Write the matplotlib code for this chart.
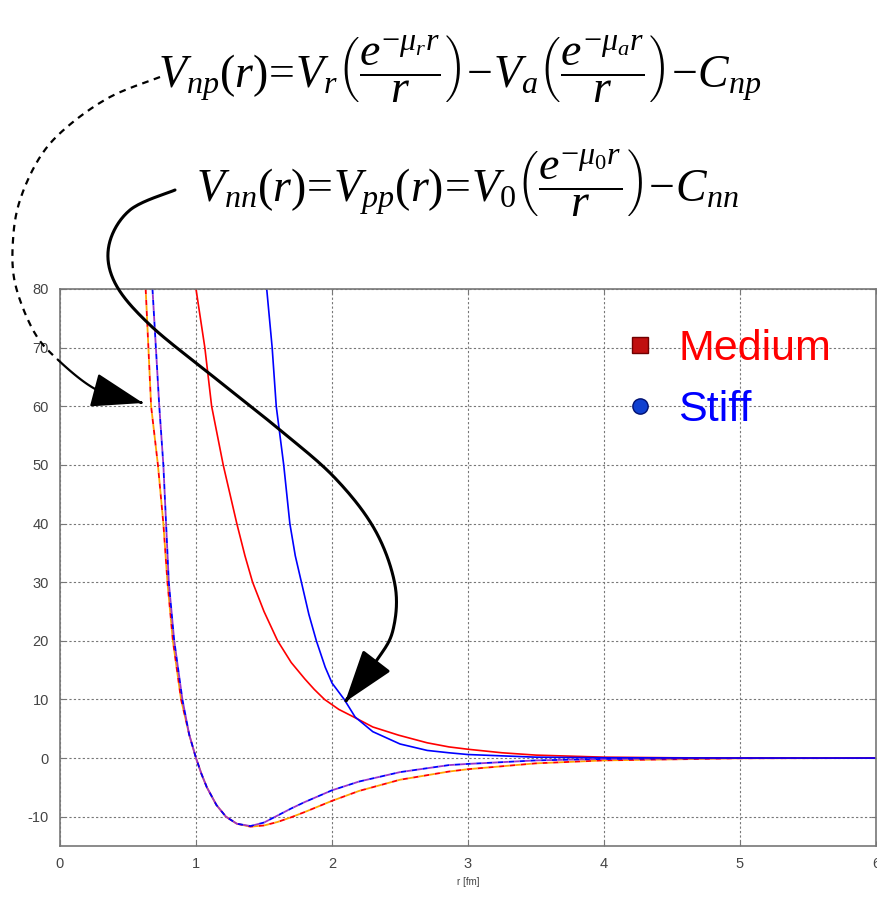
import numpy as np
import matplotlib.pyplot as plt
from matplotlib.patches import FancyArrowPatch, ArrowStyle
from matplotlib.path import Path
from matplotlib.lines import Line2D

plt.rcParams['font.family'] = ['Liberation Sans', 'DejaVu Sans']
plt.rcParams['mathtext.fontset'] = 'custom'
plt.rcParams['mathtext.it'] = 'Liberation Serif:italic'
plt.rcParams['mathtext.rm'] = 'Liberation Serif'
plt.rcParams['axes.unicode_minus'] = False

# nn potentials (solid)
r_nn_med = [1.0, 1.065, 1.115, 1.2, 1.3, 1.36, 1.416, 1.5, 1.6, 1.7, 1.8, 1.87, 1.945, 2.05,
            2.16, 2.3, 2.49, 2.7, 2.86, 3.0, 3.25, 3.5, 4.0, 4.5, 5.0, 6.0]
V_nn_med = [80, 70, 60, 50, 40, 34.5, 30, 25, 20, 16.3, 13.5, 11.7, 10, 8.3,
            7, 5.3, 3.9, 2.6, 1.9, 1.5, 0.9, 0.5, 0.15, 0.05, 0.0, 0.0]
r_nn_stf = [1.52, 1.56, 1.59, 1.645, 1.69, 1.73, 1.775, 1.83, 1.885, 1.95, 2.0, 2.09, 2.17,
            2.3, 2.5, 2.7, 2.86, 3.0, 3.5, 4.0, 5.0, 6.0]
V_nn_stf = [80, 70, 60, 50, 40, 34.5, 30, 24.5, 20, 15.5, 12.8, 10, 7,
            4.5, 2.4, 1.3, 0.9, 0.6, 0.15, 0.05, 0.0, 0.0]

# np potentials (dashed)
r_np_med = [0.63, 0.67, 0.72, 0.76, 0.79, 0.83, 0.89, 0.95, 1.0, 1.04, 1.08, 1.15, 1.22, 1.3,
            1.4, 1.5, 1.6, 1.7, 1.8, 2.0, 2.2, 2.5, 2.86, 3.0, 3.5, 4.0, 5.0, 6.0]
V_np_med = [80, 60, 50, 40, 30, 20, 10, 4, 0, -2.7, -5, -8, -10, -11.2,
            -11.7, -11.5, -10.9, -10.1, -9.2, -7.3, -5.6, -3.7, -2.3, -1.9, -0.9, -0.4, -0.05, 0]
r_np_stf = [0.68, 0.73, 0.76, 0.78, 0.80, 0.84, 0.90, 0.95, 1.0, 1.04, 1.08, 1.15, 1.22, 1.3,
            1.4, 1.5, 1.6, 1.7, 1.8, 2.0, 2.2, 2.5, 2.86, 3.0, 3.5, 4.0, 5.0, 6.0]
V_np_stf = [80, 60, 50, 40, 30, 20, 10, 4, 0, -2.7, -5, -8, -10, -11.2,
            -11.6, -11.0, -9.8, -8.6, -7.5, -5.5, -4.0, -2.4, -1.2, -1.0, -0.4, -0.15, 0, 0]

xticks = [0, 1, 2, 3, 4, 5, 6]
yticks = [-10, 0, 10, 20, 30, 40, 50, 60, 70, 80]

W, H = 878, 900
fig = plt.figure(figsize=(W / 100, H / 100), dpi=100)
ax = fig.add_axes([60 / W, 1 - 846 / H, 816 / W, (846 - 289) / H])

ax.plot(r_np_med, V_np_med, color='red', lw=1.3, ls=(0, (3, 3)))
ax.plot(r_np_med, V_np_med, color='orange', lw=1.3, ls=(3, (3, 3)))
ax.plot(r_np_stf, V_np_stf, color='blue', lw=1.3, ls=(0, (3, 3)))
ax.plot(r_np_stf, V_np_stf, color='#9933cc', lw=1.3, ls=(3, (3, 3)))
ax.plot(r_nn_med, V_nn_med, color='red', lw=1.2)
ax.plot(r_nn_stf, V_nn_stf, color='blue', lw=1.2)

ax.set_xlim(0, 6)
ax.set_ylim(-15, 80)
ax.set_xticks(xticks)
ax.set_yticks(yticks)
ax.grid(True, color='#777777', lw=0.8, ls=(0, (2, 2)))
ax.tick_params(direction='in', labelsize=10.5, labelcolor='#444444', color='#777777', pad=8,
               right=True, top=True)
for s in ax.spines.values():
    s.set_color('#777777')
    s.set_linewidth(1.2)
ax.set_xlabel('r [fm]', fontsize=7, color='#444444', labelpad=4)

handles = [Line2D([], [], ls='none', marker='s', ms=11, color='#c01010', mec='#700000'),
           Line2D([], [], ls='none', marker='o', ms=11, color='#1040d0', mec='#001070')]
leg = fig.legend(handles, ['Medium', 'Stiff'], loc='upper left', bbox_to_anchor=(588 / W, 1 - 290 / H),
                 frameon=False, fontsize=31, labelcolor=['red', 'blue'], handlelength=0.6,
                 handletextpad=0.6, labelspacing=0.5)

# formulas
fig.text(460 / W, 1 - 68 / H,
         r'$V_{np}(r)\!=\!V_r\left(\dfrac{e^{-\mu_r r}}{r}\right)\!-\!V_a\left(\dfrac{e^{-\mu_a r}}{r}\right)\!-\!C_{np}$',
         fontsize=33, ha='center', va='center')
fig.text(467 / W, 1 - 182 / H,
         r'$V_{nn}(r)\!=\!V_{pp}(r)\!=\!V_0\left(\dfrac{e^{-\mu_0 r}}{r}\right)\!-\!C_{nn}$',
         fontsize=33, ha='center', va='center')


def smooth(pts, n=20):
    # Catmull-Rom through the guide points
    p = np.array(pts, float)
    p = np.vstack([p[0], p, p[-1]])
    out = []
    for i in range(1, len(p) - 2):
        p0, p1, p2, p3 = p[i - 1], p[i], p[i + 1], p[i + 2]
        t = np.linspace(0, 1, n, endpoint=False)[:, None]
        out.append(0.5 * ((2 * p1) + (-p0 + p2) * t + (2 * p0 - 5 * p1 + 4 * p2 - p3) * t ** 2
                          + (-p0 + 3 * p1 - 3 * p2 + p3) * t ** 3))
    out.append(p[-2][None, :])
    q = np.vstack(out)
    return np.column_stack([q[:, 0] / W, 1 - q[:, 1] / H])


solid_pts = [(175, 190), (130, 210), (109, 245), (115, 283), (150, 325), (215, 378), (280, 430),
             (335, 478), (375, 530), (395, 585), (393, 630), (377, 660), (345, 702)]
sp = smooth(solid_pts)
style = ArrowStyle('-|>', head_length=33, head_width=11)
fig.add_artist(FancyArrowPatch(path=Path(sp), arrowstyle=style, transform=fig.transFigure,
                               color='black', lw=2.2, shrinkA=0, shrinkB=0))

dash_pts = [(160, 77), (110, 97), (67, 127), (40, 157), (20, 200), (13, 240), (15, 283),
            (33, 330), (56, 358), (97, 390), (143, 403)]
dp = smooth(dash_pts)
fig.add_artist(Line2D(dp[:-40, 0], dp[:-40, 1], transform=fig.transFigure, color='black',
                      lw=1.6, ls=(0, (3, 2.5))))
fig.add_artist(FancyArrowPatch(path=Path(dp[-40:]), arrowstyle=style, transform=fig.transFigure,
                               color='black', lw=1.6, shrinkA=0, shrinkB=0))

fig.savefig('out.png', dpi=100)
